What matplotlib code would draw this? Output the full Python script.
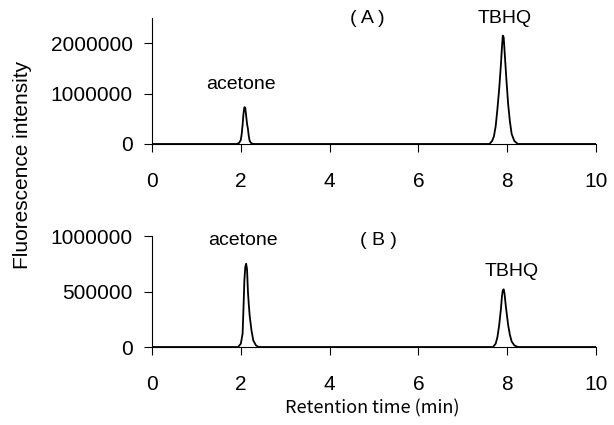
import matplotlib
matplotlib.use("Agg")
import matplotlib.pyplot as plt

plt.rcParams['font.family'] = ['Liberation Sans', 'DejaVu Sans']

# (A) chromatogram
acetone_a_t = [0.0, 1.90, 1.96, 2.00, 2.02, 2.04, 2.06, 2.08, 2.10, 2.12, 2.14, 2.16, 2.18, 2.20, 2.24, 2.30]
acetone_a_y = [0, 0, 20000, 80000, 200000, 380000, 600000, 730000, 720000, 560000, 400000, 300000, 150000, 60000, 10000, 0]
tbhq_a_t = [7.60, 7.66, 7.70, 7.74, 7.78, 7.82, 7.86, 7.88, 7.90, 7.92, 7.94, 7.98, 8.02, 8.06, 8.10, 8.16, 8.24, 10.0]
tbhq_a_y = [0, 60000, 150000, 350000, 700000, 1100000, 1600000, 1900000, 2150000, 2120000, 1850000, 1300000, 800000, 450000, 200000, 60000, 0, 0]

# (B) chromatogram
acetone_b_t = [0.0, 1.94, 2.00, 2.04, 2.06, 2.08, 2.10, 2.12, 2.14, 2.16, 2.18, 2.20, 2.24, 2.28, 2.34, 2.40]
acetone_b_y = [0, 0, 30000, 120000, 350000, 600000, 720000, 750000, 700000, 500000, 380000, 280000, 150000, 60000, 15000, 0]
tbhq_b_t = [7.68, 7.74, 7.78, 7.82, 7.86, 7.88, 7.90, 7.92, 7.94, 7.96, 7.98, 8.02, 8.06, 8.10, 8.16, 8.24, 10.0]
tbhq_b_y = [0, 30000, 90000, 200000, 350000, 450000, 510000, 520000, 480000, 400000, 330000, 200000, 110000, 50000, 15000, 0, 0]

x_ticks = [0, 2, 4, 6, 8, 10]

fig = plt.figure(figsize=(6.14, 4.25), dpi=100)
ax1 = fig.add_axes([0.2476, 0.6612, 0.7231, 0.2965])
ax2 = fig.add_axes([0.2476, 0.1835, 0.7231, 0.2612])

ax1.plot(acetone_a_t + tbhq_a_t, acetone_a_y + tbhq_a_y, color='black', lw=1.3)
ax2.plot(acetone_b_t + tbhq_b_t, acetone_b_y + tbhq_b_y, color='black', lw=1.3)

ax1.set_ylim(0, 2500000)
ax1.set_yticks([0, 1000000, 2000000])
ax2.set_ylim(0, 1000000)
ax2.set_yticks([0, 500000, 1000000])

for ax in (ax1, ax2):
    ax.set_xlim(0, 10)
    ax.set_xticks(x_ticks)
    ax.spines['top'].set_visible(False)
    ax.spines['right'].set_visible(False)
    ax.tick_params(direction='out', length=6, width=0.8, labelsize=15)
    ax.tick_params(axis='x', pad=14)
    ax.tick_params(axis='y', pad=8)
    ax.set_yticklabels([str(int(v)) for v in ax.get_yticks()])

jp = ['Noto Sans CJK JP', 'DejaVu Sans']

ax1.text(4.85, 2490000, '( A )', fontsize=14, ha='center', va='center')
ax1.text(7.95, 2490000, 'TBHQ', fontsize=14, ha='center', va='center')
ax1.text(2.0, 1190000, 'acetone', fontsize=14, ha='center', va='center')

ax2.text(5.1, 960000, '( B )', fontsize=14, ha='center', va='center')
ax2.text(2.05, 960000, 'acetone', fontsize=14, ha='center', va='center')
ax2.text(8.1, 680000, 'TBHQ', fontsize=14, ha='center', va='center')

fig.text(0.037, 0.612, 'Fluorescence intensity', rotation=90, fontsize=15, ha='center', va='center')
fig.text(0.607, 0.04, 'Retention time (min)', fontsize=13, ha='center', va='center', family=jp)

fig.savefig('out.png', dpi=100)
